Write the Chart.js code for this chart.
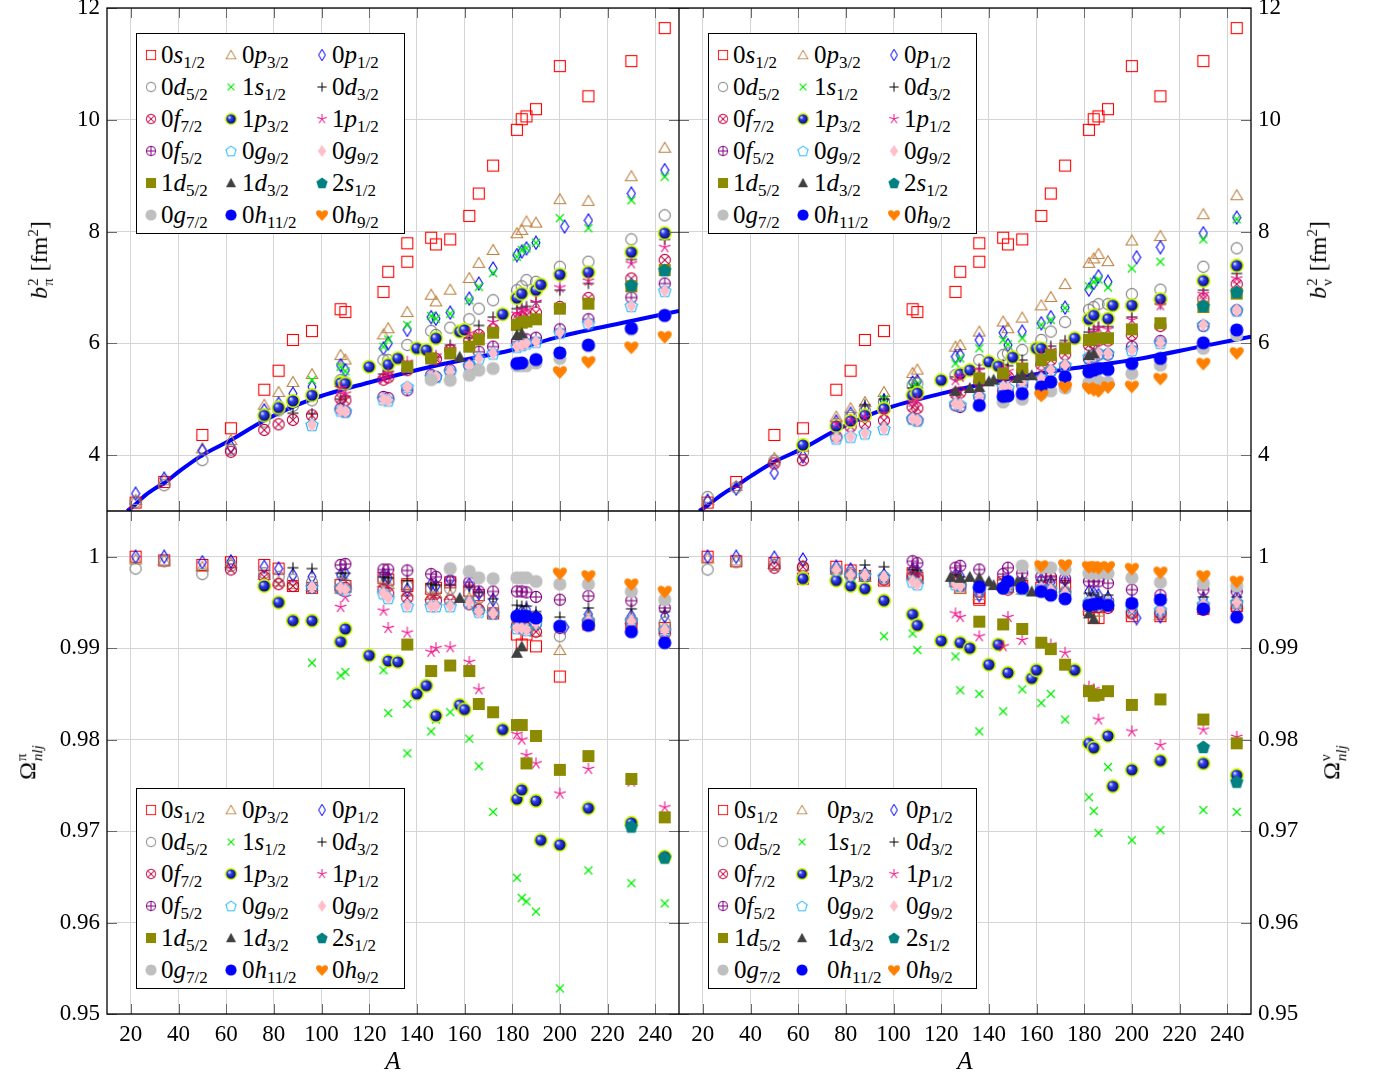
<!DOCTYPE html>
<html>
<head>
<meta charset="utf-8">
<script src="https://cdn.jsdelivr.net/npm/chart.js@4.4.1/dist/chart.umd.min.js"></script>
<style>
  body { margin: 0; background: #fff; }
  #wrap { position: relative; width: 1386px; height: 1080px; }
  .leg { position: absolute; box-sizing: border-box; background: #fff; border: 1px solid #000;
         font-family: 'Liberation Serif', serif; font-size: 25px; color: #000; }
  .leg canvas { position: absolute; }
  .leg span { position: absolute; white-space: nowrap; line-height: 1; }
  .leg sub { font-size: 17px; vertical-align: -5px; line-height: 0; }
  .ytitle { position: absolute; transform: translate(-50%, -50%) rotate(-90deg);
            font-family: 'Liberation Serif', serif; font-size: 24px; white-space: nowrap; }
  .ss { display: inline-flex; flex-direction: column; vertical-align: middle; font-size: 15px; line-height: 1.05; margin: 0 1px; }
</style>
</head>
<body>
<div id="wrap"><canvas id="c" width="1386" height="1080"></canvas></div>
<script>
// tick labels
const xTicks = [20, 40, 60, 80, 100, 120, 140, 160, 180, 200, 220, 240];
const b2Ticks = [4, 6, 8, 10, 12];
const omTicks = [0.95, 0.96, 0.97, 0.98, 0.99, 1];

// legend entries (row by row)
const labels = ['0<i>s</i><sub>1/2</sub>', '0<i>p</i><sub>3/2</sub>', '0<i>p</i><sub>1/2</sub>',
  '0<i>d</i><sub>5/2</sub>', '1<i>s</i><sub>1/2</sub>', '0<i>d</i><sub>3/2</sub>',
  '0<i>f</i><sub>7/2</sub>', '1<i>p</i><sub>3/2</sub>', '1<i>p</i><sub>1/2</sub>',
  '0<i>f</i><sub>5/2</sub>', '0<i>g</i><sub>9/2</sub>', '0<i>g</i><sub>9/2</sub>',
  '1<i>d</i><sub>5/2</sub>', '1<i>d</i><sub>3/2</sub>', '2<i>s</i><sub>1/2</sub>',
  '0<i>g</i><sub>7/2</sub>', '0<i>h</i><sub>11/2</sub>', '0<i>h</i><sub>9/2</sub>'];

// ---- protons, b^2 [fm^2]  (A, value)
const tl_0s = [[22,3.15],[34,3.52],[50,4.36],[62,4.48],[76,5.17],[82,5.51],[88,6.06],[96,6.22],[108,6.61],[110,6.56],[126,6.92],[128,7.28],[136,7.79],[136,7.46],[146,7.89],[148,7.77],[154,7.86],[162,8.28],[166,8.68],[172,9.18],[182,9.82],[184,10.01],[186,10.06],[190,10.19],[200,10.96],[212,10.42],[230,11.05],[244,11.64]];
const tl_0p3 = [[22,3.2],[34,3.55],[50,4.12],[62,4.27],[76,4.9],[82,5.13],[88,5.31],[96,5.45],[108,5.79],[110,5.71],[126,6.16],[128,6.27],[136,6.56],[146,6.87],[148,6.75],[154,6.96],[162,7.17],[166,7.44],[172,7.67],[182,7.97],[184,8.03],[186,8.18],[190,8.16],[200,8.58],[212,8.55],[230,8.99],[244,9.5]];
const tl_0p1 = [[22,3.31],[34,3.58],[50,4.08],[62,4.15],[76,4.8],[82,4.92],[88,5.1],[96,5.22],[108,5.61],[110,5.52],[126,5.91],[128,6.0],[136,6.24],[146,6.47],[148,6.44],[154,6.55],[162,6.8],[166,7.07],[172,7.34],[182,7.58],[184,7.64],[186,7.7],[190,7.8],[202,8.09],[212,8.2],[230,8.68],[244,9.1]];
const tl_0d5 = [[22,3.16],[34,3.46],[50,3.91],[62,4.1],[76,4.6],[82,4.8],[88,4.88],[96,4.98],[108,5.34],[110,5.3],[126,5.7],[128,5.7],[136,5.97],[146,6.22],[148,6.15],[154,6.28],[162,6.43],[166,6.62],[172,6.77],[182,6.95],[184,7.02],[186,7.13],[190,7.1],[200,7.37],[212,7.46],[230,7.86],[244,8.29]];
const tl_1s = [[96,5.34],[108,5.58],[110,5.5],[126,5.94],[128,6.07],[136,6.33],[146,6.49],[148,6.44],[154,6.53],[162,6.77],[166,7.01],[172,7.26],[182,7.55],[184,7.67],[186,7.7],[190,7.8],[200,8.24],[212,8.06],[230,8.56],[244,8.98]];
const tl_0d3 = [[88,4.75],[96,4.74],[108,5.0],[110,5.05],[126,5.45],[128,5.5],[136,5.6],[146,5.73],[148,5.75],[154,5.97],[162,6.1],[166,6.32],[172,6.47],[182,6.62],[184,6.64],[186,6.66],[190,6.74],[200,6.95],[212,7.07],[230,7.5],[244,7.86]];
const tl_0f7 = [[62,4.06],[76,4.45],[82,4.55],[88,4.63],[96,4.71],[108,5.01],[110,4.98],[126,5.35],[128,5.39],[136,5.52],[146,5.73],[148,5.72],[154,5.88],[162,6.05],[166,6.15],[172,6.25],[182,6.45],[184,6.47],[186,6.5],[190,6.55],[200,6.65],[212,6.81],[230,7.16],[244,7.49]];
const tl_1p3 = [[76,4.71],[82,4.85],[88,4.97],[96,5.07],[108,5.29],[110,5.28],[120,5.58],[128,5.62],[132,5.73],[140,5.91],[144,5.88],[148,6.09],[158,6.21],[160,6.24],[176,6.52],[182,6.81],[184,6.89],[190,6.95],[192,7.05],[200,7.23],[212,7.27],[230,7.63],[244,7.97]];
const tl_1p1 = [[108,5.2],[110,5.1],[126,5.37],[128,5.46],[136,5.67],[146,5.75],[148,5.78],[154,5.9],[162,6.18],[166,6.15],[172,6.38],[182,6.53],[184,6.59],[186,6.6],[190,6.74],[200,7.0],[212,7.12],[230,7.43],[244,7.72]];
const tl_0f5 = [[108,4.83],[110,4.78],[126,5.04],[128,5.02],[136,5.16],[146,5.43],[148,5.4],[154,5.52],[162,5.61],[166,5.85],[172,5.94],[182,6.03],[184,6.05],[186,6.07],[190,6.1],[200,6.25],[212,6.43],[230,6.82],[244,7.07]];
const tl_0g9c = [[96,4.54],[108,4.8],[110,4.78],[126,5.0],[128,4.98],[136,5.22],[146,5.4],[148,5.4],[154,5.49],[162,5.6],[166,5.73],[172,5.82],[182,5.94],[184,5.97],[186,6.0],[190,6.03],[200,6.19],[212,6.36],[230,6.67],[244,6.94]];
const tl_0g9p = [[96,4.54],[108,4.8],[110,4.78],[126,5.0],[128,4.98],[136,5.22],[146,5.4],[148,5.4],[154,5.49],[162,5.6],[166,5.73],[172,5.82],[182,5.94],[184,5.97],[186,6.0],[190,6.03],[200,6.19],[212,6.36],[230,6.67],[244,6.94]];
const tl_1d5 = [[136,5.58],[146,5.73],[154,5.82],[162,5.94],[166,6.07],[172,6.19],[182,6.33],[184,6.37],[186,6.39],[190,6.43],[200,6.62],[212,6.71],[230,7.02],[244,7.31]];
const tl_1d3 = [[158,5.76],[182,6.15],[184,6.18]];
const tl_2s = [[230,7.04],[244,7.31]];
const tl_0g7 = [[146,5.35],[154,5.34],[162,5.43],[166,5.52],[172,5.55],[182,5.6],[184,5.6],[186,5.6],[190,5.65],[200,5.73],[212,5.95],[230,6.25],[244,6.5]];
const tl_0h11 = [[182,5.64],[184,5.65],[190,5.71],[200,5.83],[212,5.97],[230,6.27],[244,6.5]];
const tl_0h9 = [[200,5.49],[212,5.67],[230,5.93],[244,6.12]];
const tl_fit = [[18.5,3.0],[22,3.12],[26,3.28],[30,3.4],[34,3.5],[40,3.7],[50,4.0],[62,4.27],[76,4.62],[96,5.0],[120,5.3],[150,5.62],[180,5.88],[200,6.12],[230,6.4],[250,6.58]];

// ---- neutrons, b^2 [fm^2]
const tr_0s = [[22,3.15],[34,3.52],[50,4.36],[62,4.48],[76,5.17],[82,5.51],[88,6.06],[96,6.22],[108,6.61],[110,6.56],[126,6.92],[128,7.28],[136,7.79],[136,7.46],[146,7.89],[148,7.77],[154,7.86],[162,8.28],[166,8.68],[172,9.18],[182,9.82],[184,10.01],[186,10.06],[190,10.19],[200,10.96],[212,10.42],[230,11.05],[244,11.64]];
const tr_0p3 = [[22,3.2],[34,3.45],[50,3.95],[62,4.15],[76,4.69],[82,4.84],[88,4.95],[96,5.13],[108,5.47],[110,5.53],[126,5.94],[128,5.97],[136,6.21],[146,6.39],[148,6.27],[154,6.46],[162,6.68],[166,6.83],[172,7.06],[182,7.44],[184,7.52],[186,7.6],[190,7.47],[200,7.84],[212,7.92],[230,8.31],[244,8.65]];
const tr_0p1 = [[22,3.18],[34,3.4],[50,3.68],[62,3.98],[76,4.6],[82,4.74],[88,4.83],[96,4.98],[108,5.3],[110,5.32],[126,5.76],[128,5.79],[136,6.06],[146,6.19],[148,5.97],[154,6.21],[162,6.36],[166,6.47],[172,6.64],[182,6.96],[184,7.08],[186,7.2],[190,7.1],[202,7.54],[212,7.72],[230,7.97],[244,8.25]];
const tr_0d5 = [[22,3.25],[34,3.42],[50,3.9],[62,4.05],[76,4.55],[82,4.7],[88,4.8],[96,4.95],[108,5.25],[110,5.28],[126,5.43],[128,5.46],[136,5.7],[146,5.79],[148,5.82],[154,5.88],[162,6.06],[166,6.21],[172,6.38],[182,6.6],[184,6.65],[186,6.7],[190,6.7],[200,6.88],[212,6.96],[230,7.37],[244,7.7]];
const tr_1s = [[96,5.0],[108,5.22],[110,5.28],[126,5.64],[128,5.73],[136,5.91],[146,6.06],[148,5.98],[154,6.09],[162,6.33],[166,6.42],[172,6.63],[182,7.02],[184,7.1],[186,7.14],[190,7.0],[200,7.34],[212,7.46],[230,7.86],[244,8.22]];
const tr_0d3 = [[88,4.9],[96,5.0],[108,5.2],[110,5.2],[126,5.4],[128,5.45],[136,5.55],[146,5.62],[148,5.6],[154,5.7],[162,5.85],[166,5.95],[172,6.05],[182,6.2],[184,6.25],[186,6.3],[190,6.3],[200,6.47],[212,6.7],[230,6.95],[244,7.25]];
const tr_0f7 = [[50,3.85],[62,3.91],[76,4.33],[82,4.51],[88,4.56],[96,4.62],[108,4.86],[110,4.84],[126,5.1],[128,5.12],[136,5.31],[146,5.42],[148,5.4],[154,5.5],[162,5.62],[166,5.7],[172,5.8],[182,5.97],[184,6.0],[186,6.05],[190,6.05],[200,6.15],[212,6.31],[230,6.8],[244,7.06]];
const tr_1p3 = [[62,4.18],[76,4.52],[82,4.61],[88,4.71],[96,4.83],[108,5.07],[110,5.11],[120,5.34],[128,5.45],[132,5.52],[140,5.67],[144,5.59],[150,5.75],[160,5.91],[162,5.91],[176,6.09],[182,6.43],[184,6.5],[190,6.44],[192,6.68],[200,6.68],[212,6.79],[230,7.12],[244,7.39]];
const tr_1p1 = [[76,4.57],[82,4.62],[88,4.68],[96,4.75],[108,4.95],[110,4.98],[126,5.34],[128,5.4],[136,5.52],[146,5.55],[148,5.5],[154,5.6],[162,5.78],[166,5.88],[172,5.98],[182,6.12],[184,6.2],[186,6.27],[190,6.25],[200,6.42],[212,6.68],[230,6.88],[244,7.16]];
const tr_0f5 = [[108,4.65],[110,4.62],[126,4.89],[128,4.86],[136,5.04],[146,5.15],[148,5.12],[154,5.25],[162,5.4],[166,5.5],[172,5.58],[182,5.72],[184,5.75],[186,5.8],[190,5.8],[200,5.94],[212,6.04],[230,6.31],[244,6.59]];
const tr_0g9c = [[76,4.3],[82,4.33],[88,4.39],[96,4.47],[108,4.65],[110,4.62],[126,4.92],[128,4.9],[136,5.05],[146,5.22],[148,5.2],[154,5.31],[162,5.37],[166,5.52],[172,5.61],[182,5.76],[184,5.78],[186,5.82],[190,5.82],[200,5.88],[212,6.01],[230,6.33],[244,6.59]];
const tr_0g9p = [[76,4.3],[82,4.33],[88,4.39],[96,4.47],[108,4.65],[110,4.62],[126,4.92],[128,4.9],[136,5.05],[146,5.22],[148,5.2],[154,5.31],[162,5.37],[166,5.52],[172,5.61],[182,5.76],[184,5.78],[186,5.82],[190,5.82],[200,5.88],[212,6.01],[230,6.33],[244,6.59]];
const tr_1d5 = [[136,5.37],[146,5.46],[154,5.55],[162,5.7],[166,5.79],[172,5.91],[182,6.06],[184,6.08],[186,6.09],[190,6.09],[200,6.25],[212,6.36],[230,6.65],[244,6.89]];
const tr_1d3 = [[126,5.15],[132,5.2],[136,5.22],[140,5.32],[142,5.35],[152,5.38],[154,5.43],[158,5.43],[182,5.79],[184,5.82]];
const tr_2s = [[230,6.67],[244,6.92]];
const tr_0g7 = [[146,4.95],[154,5.0],[162,5.1],[166,5.15],[172,5.2],[182,5.3],[184,5.3],[186,5.32],[190,5.3],[200,5.46],[212,5.61],[230,5.91],[244,6.15]];
const tr_0h11 = [[136,4.89],[146,5.05],[148,5.06],[154,5.1],[162,5.22],[166,5.31],[172,5.4],[182,5.49],[184,5.52],[186,5.55],[190,5.53],[200,5.64],[212,5.73],[230,6.01],[244,6.24]];
const tr_0h9 = [[162,5.07],[172,5.22],[182,5.2],[184,5.17],[186,5.15],[190,5.22],[200,5.23],[212,5.37],[230,5.64],[244,5.83]];
const tr_fit = [[18.5,3.0],[22,3.1],[26,3.23],[30,3.35],[34,3.45],[40,3.62],[50,3.88],[62,4.12],[76,4.45],[96,4.82],[120,5.1],[150,5.38],[180,5.58],[200,5.7],[230,5.95],[250,6.12]];

// ---- protons, Omega
const bl_0s = [[22,1.0],[34,0.9996],[50,0.9991],[62,0.9994],[76,0.9991],[82,0.9987],[88,0.9968],[96,0.9966],[108,0.9969],[110,0.9968],[126,0.9977],[128,0.9975],[136,0.997],[136,0.9968],[146,0.9965],[148,0.9966],[154,0.9972],[162,0.9963],[166,0.9958],[172,0.9938],[182,0.9915],[184,0.9904],[186,0.9915],[190,0.9902],[200,0.9869],[212,0.9926],[230,0.9927],[244,0.9922]];
const bl_0p3 = [[22,0.9997],[34,0.9996],[50,0.9989],[62,0.9993],[76,0.998],[82,0.9973],[88,0.997],[96,0.9968],[108,0.9965],[110,0.9966],[126,0.9972],[128,0.997],[136,0.9962],[146,0.9958],[148,0.996],[154,0.9958],[162,0.9955],[166,0.9946],[172,0.994],[182,0.9928],[184,0.9925],[186,0.9925],[190,0.9918],[200,0.9898],[212,0.9935],[230,0.9932],[244,0.9924]];
const bl_0p1 = [[22,1.0],[34,1.0],[50,0.9994],[62,0.9995],[76,0.9989],[82,0.9987],[88,0.998],[96,0.9978],[108,0.998],[110,0.9982],[126,0.998],[128,0.9977],[136,0.9964],[146,0.997],[148,0.9968],[154,0.9975],[162,0.997],[166,0.996],[172,0.9953],[182,0.9937],[184,0.994],[186,0.9942],[190,0.9935],[202,0.9923],[212,0.9937],[230,0.9935],[244,0.9935]];
const bl_0d5 = [[22,0.9987],[34,0.9995],[50,0.9981],[62,0.999],[76,0.9982],[82,0.9978],[88,0.9975],[96,0.9972],[108,0.9972],[110,0.997],[126,0.9975],[128,0.9972],[136,0.9968],[146,0.9965],[148,0.9964],[154,0.9965],[162,0.996],[166,0.9955],[172,0.9945],[182,0.9932],[184,0.993],[186,0.993],[190,0.9926],[200,0.9913],[212,0.993],[230,0.993],[244,0.9928]];
const bl_1s = [[96,0.9884],[108,0.987],[110,0.9874],[126,0.9876],[128,0.9829],[136,0.9839],[136,0.9785],[146,0.9809],[148,0.9822],[154,0.983],[162,0.9801],[166,0.9771],[172,0.9721],[182,0.9649],[184,0.9627],[186,0.9623],[190,0.9612],[200,0.9528],[212,0.9657],[230,0.9643],[244,0.9621]];
const bl_0d3 = [[88,0.9988],[96,0.9987],[108,0.9982],[110,0.9982],[126,0.9978],[128,0.9977],[136,0.9974],[146,0.997],[148,0.9969],[154,0.9969],[162,0.9967],[166,0.9961],[172,0.9954],[182,0.9947],[184,0.9946],[186,0.9946],[190,0.994],[200,0.9934],[212,0.9944],[230,0.9943],[244,0.994]];
const bl_0f7 = [[62,0.9986],[76,0.9978],[82,0.997],[88,0.9968],[96,0.9966],[108,0.9965],[110,0.9966],[126,0.9964],[128,0.996],[136,0.9955],[146,0.9952],[148,0.9952],[154,0.9952],[162,0.9948],[166,0.9942],[172,0.9938],[182,0.9925],[184,0.9922],[186,0.9922],[190,0.9918],[200,0.9922],[212,0.9927],[230,0.9927],[244,0.9916]];
const bl_1p3 = [[76,0.9968],[82,0.995],[88,0.993],[96,0.993],[108,0.9907],[110,0.9921],[120,0.9892],[128,0.9886],[132,0.9885],[140,0.985],[144,0.9859],[148,0.9826],[158,0.9838],[160,0.9833],[176,0.9811],[182,0.9735],[184,0.9745],[190,0.9733],[192,0.969],[200,0.9685],[212,0.9725],[230,0.9709],[244,0.9672]];
const bl_1p1 = [[108,0.9945],[110,0.9956],[126,0.9941],[128,0.9922],[136,0.9917],[146,0.9896],[148,0.99],[154,0.9901],[162,0.9885],[166,0.9855],[182,0.9806],[184,0.98],[186,0.9783],[190,0.9774],[200,0.9741],[212,0.9768],[230,0.9754],[244,0.9726]];
const bl_0f5 = [[108,0.9991],[110,0.9992],[126,0.9986],[128,0.9986],[136,0.9985],[146,0.9981],[148,0.9978],[154,0.9974],[162,0.9972],[166,0.9962],[172,0.9962],[182,0.9962],[184,0.9962],[186,0.9961],[190,0.9956],[200,0.9953],[212,0.9957],[230,0.9952],[244,0.9944]];
const bl_0g9c = [[96,0.9967],[108,0.9966],[110,0.9964],[126,0.996],[128,0.9955],[136,0.9946],[146,0.9946],[148,0.9946],[154,0.9946],[162,0.995],[166,0.994],[172,0.9938],[182,0.9922],[184,0.9922],[186,0.992],[190,0.9928],[200,0.9925],[212,0.993],[230,0.993],[244,0.992]];
const bl_0g9p = [[96,0.9967],[108,0.9966],[110,0.9964],[126,0.996],[128,0.9955],[136,0.9946],[146,0.9946],[148,0.9946],[154,0.9946],[162,0.995],[166,0.994],[172,0.9938],[182,0.9922],[184,0.9922],[186,0.992],[190,0.9928],[200,0.9925],[212,0.993],[230,0.993],[244,0.992]];
const bl_1d5 = [[136,0.9904],[146,0.9875],[154,0.9881],[162,0.9875],[166,0.9839],[172,0.983],[182,0.9816],[184,0.9816],[186,0.9774],[190,0.9804],[200,0.9767],[212,0.9782],[230,0.9757],[244,0.9715]];
const bl_1d3 = [[158,0.9955],[182,0.9895],[184,0.9902]];
const bl_2s = [[230,0.9705],[244,0.9671]];
const bl_0g7 = [[154,0.9987],[162,0.9984],[166,0.9977],[172,0.9976],[182,0.9977],[184,0.9977],[186,0.9977],[190,0.9973],[200,0.997],[212,0.997],[230,0.9962],[244,0.9953]];
const bl_0h11 = [[182,0.9935],[184,0.9935],[186,0.9935],[190,0.9933],[200,0.9924],[212,0.9925],[230,0.9918],[244,0.9906]];
const bl_0h9 = [[200,0.9982],[212,0.9979],[230,0.997],[244,0.9962]];

// ---- neutrons, Omega
const br_0s = [[22,1.0],[34,0.9995],[50,0.9993],[62,0.9976],[76,0.9989],[82,0.9985],[88,0.9979],[96,0.9974],[108,0.9982],[110,0.9977],[126,0.9975],[128,0.9966],[136,0.9953],[136,0.9955],[146,0.9972],[148,0.997],[154,0.9968],[162,0.9966],[166,0.9973],[172,0.9968],[182,0.9942],[184,0.9933],[186,0.9933],[190,0.9948],[200,0.9935],[212,0.9935],[230,0.9943],[244,0.9946]];
const br_0p3 = [[22,0.9998],[34,0.9996],[50,0.9992],[62,0.999],[76,0.9986],[82,0.9982],[88,0.9978],[96,0.9975],[108,0.998],[110,0.9976],[126,0.9972],[128,0.9965],[136,0.9958],[146,0.9968],[148,0.9966],[154,0.9964],[162,0.9962],[166,0.9966],[172,0.9962],[182,0.9945],[184,0.994],[186,0.994],[190,0.9948],[200,0.9938],[212,0.9936],[230,0.9944],[244,0.9948]];
const br_0p1 = [[22,1.0],[34,1.0],[50,0.9999],[62,0.9997],[76,0.9989],[82,0.9986],[88,0.9982],[96,0.998],[108,0.9986],[110,0.9984],[126,0.998],[128,0.9979],[136,0.9958],[146,0.9968],[148,0.9972],[154,0.9972],[162,0.9975],[166,0.9972],[172,0.9975],[182,0.9962],[184,0.996],[186,0.9958],[190,0.9955],[202,0.9933],[212,0.9935],[230,0.9954],[244,0.9956]];
const br_0d5 = [[22,0.9986],[34,0.9994],[50,0.9991],[62,0.9988],[76,0.9985],[82,0.9982],[88,0.998],[96,0.9978],[108,0.998],[110,0.9978],[126,0.9974],[128,0.997],[136,0.9962],[146,0.9966],[148,0.9966],[154,0.9965],[162,0.9964],[166,0.9964],[172,0.9962],[182,0.995],[184,0.9946],[186,0.9945],[190,0.9946],[200,0.994],[212,0.994],[230,0.9946],[244,0.995]];
const br_1s = [[96,0.9913],[108,0.9916],[110,0.9898],[126,0.9891],[128,0.9854],[136,0.985],[136,0.9809],[146,0.9831],[154,0.9855],[162,0.984],[166,0.985],[172,0.9822],[182,0.9737],[184,0.9722],[186,0.9698],[190,0.977],[200,0.969],[212,0.9701],[230,0.9723],[244,0.9721]];
const br_0d3 = [[88,0.9991],[96,0.9989],[108,0.9986],[110,0.9985],[126,0.998],[128,0.9978],[136,0.9972],[146,0.9975],[148,0.9974],[154,0.9976],[162,0.9974],[166,0.9975],[172,0.9972],[182,0.996],[184,0.9958],[186,0.9956],[190,0.9958],[200,0.9953],[212,0.995],[230,0.9956],[244,0.9956]];
const br_0f7 = [[50,0.9988],[62,0.9989],[76,0.9984],[82,0.998],[88,0.9978],[96,0.9975],[108,0.9978],[110,0.9976],[126,0.9972],[128,0.9968],[136,0.9962],[146,0.9965],[148,0.9964],[154,0.9965],[162,0.9963],[166,0.9962],[172,0.996],[182,0.9948],[184,0.9945],[186,0.9945],[190,0.9944],[200,0.9938],[212,0.9938],[230,0.9942],[244,0.9944]];
const br_1p3 = [[62,0.9976],[76,0.9974],[82,0.9968],[88,0.9965],[96,0.9952],[108,0.9937],[110,0.9925],[120,0.9908],[128,0.9906],[132,0.99],[140,0.9882],[144,0.9904],[148,0.9873],[158,0.9867],[160,0.9876],[176,0.9876],[182,0.9796],[184,0.9791],[190,0.9804],[192,0.9749],[200,0.9767],[212,0.9777],[230,0.9774],[244,0.9761]];
const br_1p1 = [[126,0.9938],[128,0.9934],[136,0.9913],[146,0.9902],[148,0.9934],[154,0.9909],[166,0.9904],[172,0.9895],[182,0.9858],[184,0.9855],[186,0.9822],[190,0.9852],[200,0.9809],[212,0.9794],[230,0.9811],[244,0.9803]];
const br_0f5 = [[108,0.9995],[110,0.9993],[126,0.9988],[128,0.999],[136,0.9986],[146,0.9981],[148,0.9988],[154,0.9982],[162,0.9978],[166,0.9978],[172,0.9976],[182,0.9973],[184,0.9973],[186,0.9973],[190,0.9971],[200,0.9964],[212,0.9958],[230,0.9964],[244,0.9962]];
const br_0g9c = [[76,0.9986],[82,0.998],[88,0.998],[96,0.9978],[108,0.9973],[110,0.997],[126,0.997],[128,0.9968],[136,0.9964],[146,0.9966],[148,0.9968],[154,0.9965],[162,0.9966],[166,0.9964],[172,0.996],[182,0.995],[184,0.995],[186,0.9948],[190,0.995],[200,0.9945],[212,0.9942],[230,0.9948],[244,0.995]];
const br_0g9p = [[76,0.9986],[82,0.998],[88,0.998],[96,0.9978],[108,0.9973],[110,0.997],[126,0.997],[128,0.9968],[136,0.9964],[146,0.9966],[148,0.9968],[154,0.9965],[162,0.9966],[166,0.9964],[172,0.996],[182,0.995],[184,0.995],[186,0.9948],[190,0.995],[200,0.9945],[212,0.9942],[230,0.9948],[244,0.995]];
const br_1d5 = [[136,0.9929],[146,0.9926],[154,0.9921],[162,0.9906],[166,0.9899],[172,0.9882],[182,0.9853],[184,0.9848],[186,0.9849],[190,0.9853],[200,0.9838],[212,0.9844],[230,0.9822],[244,0.9796]];
const br_1d3 = [[124,0.9978],[128,0.9977],[132,0.9978],[136,0.9977],[140,0.9973],[142,0.9969],[152,0.9973],[154,0.9972],[158,0.9962],[182,0.9938],[184,0.9932]];
const br_2s = [[230,0.9792],[244,0.9754]];
const br_0g7 = [[154,0.999],[162,0.9988],[166,0.9988],[172,0.9986],[182,0.9982],[184,0.9982],[186,0.9982],[190,0.9982],[200,0.9977],[212,0.9972],[230,0.9971],[244,0.9968]];
const br_0h11 = [[136,0.9967],[146,0.9966],[148,0.9973],[154,0.9966],[162,0.9962],[166,0.9958],[172,0.9954],[182,0.9947],[184,0.9948],[186,0.9949],[190,0.9947],[200,0.9949],[212,0.9953],[230,0.9943],[244,0.9934]];
const br_0h9 = [[162,0.999],[172,0.9991],[182,0.9989],[184,0.9989],[186,0.9988],[190,0.9989],[200,0.9987],[212,0.9983],[230,0.9979],[244,0.9973]];

// ---- marker images
function mk(w, h, draw) {
  const c = document.createElement('canvas');
  c.width = w; c.height = h;
  const g = c.getContext('2d');
  draw(g, w / 2, h / 2);
  return c;
}
function poly(g, pts) { g.beginPath(); g.moveTo(pts[0][0], pts[0][1]); pts.slice(1).forEach(p => g.lineTo(p[0], p[1])); g.closePath(); }
function pent(g, cx, cy, r) {
  const pts = [];
  for (let k = 0; k < 5; k++) { const a = -Math.PI / 2 + k * 2 * Math.PI / 5; pts.push([cx + r * Math.cos(a), cy + r * Math.sin(a)]); }
  poly(g, pts);
}
function line(g, x1, y1, x2, y2) { g.beginPath(); g.moveTo(x1, y1); g.lineTo(x2, y2); g.stroke(); }

const markers = [
  mk(14, 14, (g, c) => { g.strokeStyle = '#ff0000'; g.lineWidth = 1.1; g.strokeRect(1.5, 1.5, 11, 11); }),
  mk(14, 14, (g, c) => { g.strokeStyle = '#bf8040'; g.lineWidth = 1.1; poly(g, [[7, 1.5], [12.8, 11.5], [1.2, 11.5]]); g.stroke(); }),
  mk(10, 15, (g, c) => { g.strokeStyle = '#0000ff'; g.lineWidth = 1.1; poly(g, [[5, 1], [9, 7.5], [5, 14], [1, 7.5]]); g.stroke(); }),
  mk(14, 14, (g, c) => { g.strokeStyle = '#808080'; g.lineWidth = 1.1; g.beginPath(); g.arc(c, c, 5.6, 0, 7); g.stroke(); }),
  mk(12, 12, (g, c) => { g.strokeStyle = '#00ee00'; g.lineWidth = 1.2; line(g, c - 4, c - 4, c + 4, c + 4); line(g, c - 4, c + 4, c + 4, c - 4); }),
  mk(14, 14, (g, c) => { g.strokeStyle = '#000'; g.lineWidth = 1.1; line(g, c - 5.5, c, c + 5.5, c); line(g, c, c - 5.5, c, c + 5.5); }),
  mk(14, 14, (g, c) => { g.strokeStyle = '#bf0040'; g.lineWidth = 1.1; g.beginPath(); g.arc(c, c, 5.6, 0, 7); g.stroke();
    const d = 3.9; line(g, c - d, c - d, c + d, c + d); line(g, c - d, c + d, c + d, c - d); }),
  mk(16, 16, (g, c) => { const gr = g.createRadialGradient(c - 2.2, c - 2.2, 0.5, c, c, 6.6);
    gr.addColorStop(0, '#d8ddff'); gr.addColorStop(0.3, '#3040f0'); gr.addColorStop(1, '#00005a');
    g.fillStyle = gr; g.beginPath(); g.arc(c, c, 6.4, 0, 7); g.fill();
    g.strokeStyle = '#ccff00'; g.lineWidth = 1.6; g.stroke(); }),
  mk(14, 14, (g, c) => { g.strokeStyle = '#f0148c'; g.lineWidth = 1.1;
    for (let k = 0; k < 5; k++) { const a = -Math.PI / 2 + k * 2 * Math.PI / 5; line(g, c, c, c + 6 * Math.cos(a), c + 6 * Math.sin(a)); } }),
  mk(14, 14, (g, c) => { g.strokeStyle = '#800080'; g.lineWidth = 1.1; g.beginPath(); g.arc(c, c, 5.6, 0, 7); g.stroke();
    line(g, c - 5.6, c, c + 5.6, c); line(g, c, c - 5.6, c, c + 5.6); }),
  mk(16, 16, (g, c) => { g.strokeStyle = '#14b4ff'; g.lineWidth = 1.1; pent(g, c, c + 0.5, 6.4); g.stroke(); }),
  mk(12, 16, (g, c) => { g.fillStyle = '#ffbfca'; poly(g, [[6, 1], [11, 8], [6, 15], [1, 8]]); g.fill(); }),
  mk(14, 14, (g, c) => { g.fillStyle = '#8c8a00'; g.fillRect(1, 1, 12, 12); }),
  mk(14, 14, (g, c) => { g.fillStyle = '#404040'; poly(g, [[7, 1], [13, 12], [1, 12]]); g.fill(); }),
  mk(16, 16, (g, c) => { g.fillStyle = '#008080'; pent(g, c, c + 0.5, 7); g.fill(); }),
  mk(16, 16, (g, c) => { g.fillStyle = '#bfbfbf'; g.beginPath(); g.arc(c, c, 6.6, 0, 7); g.fill(); }),
  mk(16, 16, (g, c) => { g.fillStyle = '#0000ff'; g.beginPath(); g.arc(c, c, 6.6, 0, 7); g.fill(); }),
  mk(16, 16, (g, c) => { g.fillStyle = '#ff8000'; const x = c, y = c;
    g.beginPath(); g.moveTo(x, y + 7);
    g.bezierCurveTo(x - 3, y + 3.5, x - 7, y + 0.5, x - 7, y - 2.5);
    g.bezierCurveTo(x - 7, y - 6.5, x - 2, y - 7, x, y - 3.5);
    g.bezierCurveTo(x + 2, y - 7, x + 7, y - 6.5, x + 7, y - 2.5);
    g.bezierCurveTo(x + 7, y + 0.5, x + 3, y + 3.5, x, y + 7);
    g.fill(); })
];

const panels = [
  { x: 'xL', y: 'yTL', sets: [tl_0s, tl_0p3, tl_0p1, tl_0d5, tl_1s, tl_0d3, tl_0f7, tl_1p3, tl_1p1, tl_0f5, tl_0g9c, tl_0g9p, tl_1d5, tl_1d3, tl_2s, tl_0g7, tl_0h11, tl_0h9] },
  { x: 'xR', y: 'yTR', sets: [tr_0s, tr_0p3, tr_0p1, tr_0d5, tr_1s, tr_0d3, tr_0f7, tr_1p3, tr_1p1, tr_0f5, tr_0g9c, tr_0g9p, tr_1d5, tr_1d3, tr_2s, tr_0g7, tr_0h11, tr_0h9] },
  { x: 'xL', y: 'yBL', sets: [bl_0s, bl_0p3, bl_0p1, bl_0d5, bl_1s, bl_0d3, bl_0f7, bl_1p3, bl_1p1, bl_0f5, bl_0g9c, bl_0g9p, bl_1d5, bl_1d3, bl_2s, bl_0g7, bl_0h11, bl_0h9] },
  { x: 'xR', y: 'yBR', sets: [br_0s, br_0p3, br_0p1, br_0d5, br_1s, br_0d3, br_0f7, br_1p3, br_1p1, br_0f5, br_0g9c, br_0g9p, br_1d5, br_1d3, br_2s, br_0g7, br_0h11, br_0h9] }
];

const datasets = [
  { data: tl_fit.map(p => ({ x: p[0], y: p[1] })), xAxisID: 'xL', yAxisID: 'yTL', showLine: true,
    borderColor: '#0000ff', borderWidth: 4, pointRadius: 0, cubicInterpolationMode: 'monotone', order: 100 },
  { data: tr_fit.map(p => ({ x: p[0], y: p[1] })), xAxisID: 'xR', yAxisID: 'yTR', showLine: true,
    borderColor: '#0000ff', borderWidth: 4, pointRadius: 0, cubicInterpolationMode: 'monotone', order: 100 }
];
panels.forEach(p => {
  p.sets.forEach((arr, i) => {
    datasets.push({ data: arr.map(q => ({ x: q[0], y: q[1] })), xAxisID: p.x, yAxisID: p.y,
      pointStyle: markers[i], pointRadius: 6, showLine: false, order: -i });
  });
});

const FONT = "'Liberation Serif', 'DejaVu Serif', serif";
const GRID = { color: '#d4d4d4', lineWidth: 1, drawTicks: false };

function xAxis() {
  return {
    type: 'linear', position: 'bottom', stack: 'bot', stackWeight: 1, min: 10, max: 250,
    grid: GRID, border: { display: false },
    ticks: { font: { family: FONT, size: 23 }, color: '#000', padding: 7, autoSkip: false, maxRotation: 0 },
    title: { display: true, text: 'A', font: { family: FONT, size: 25, style: 'italic' }, color: '#000', padding: { top: 0, bottom: 3 } },
    afterBuildTicks: s => { s.ticks = xTicks.map(v => ({ value: v })); },
    afterFit: s => { s.height = 66; s.paddingLeft = 0; s.paddingRight = 0; }
  };
}
function yAxis(pos, min, max, tv, w) {
  return {
    type: 'linear', position: pos, stack: pos, stackWeight: 1, min: min, max: max,
    grid: GRID, border: { display: false },
    ticks: { font: { family: FONT, size: 23 }, color: '#000', padding: 7, autoSkip: false,
      callback: v => (max < 2 ? (v === 1 ? '1' : v.toFixed(2)) : String(v)) },
    afterBuildTicks: s => { s.ticks = tv.map(v => ({ value: v })); },
    afterFit: s => { s.width = w; s.paddingTop = 0; s.paddingBottom = 0; }
  };
}

const framePlugin = {
  id: 'frame',
  afterDatasetsDraw(chart) {
    const g = chart.ctx, s = chart.scales;
    const L = s.xL.left, M = s.xL.right, R = s.xR.right, T = s.yTL.top, H = s.yTL.bottom, B = s.yBL.bottom;
    const len = 10;
    g.save();
    g.strokeStyle = '#6a6a6a'; g.lineWidth = 1;
    [s.xL, s.xR].forEach(sc => xTicks.forEach(v => {
      const x = Math.round(sc.getPixelForValue(v)) + 0.5;
      line(g, x, T, x, T + len); line(g, x, H - len, x, H + len); line(g, x, B - len, x, B);
    }));
    [[s.yTL, b2Ticks], [s.yBL, omTicks]].forEach(([sc, tv]) => tv.forEach(v => {
      const y = Math.round(sc.getPixelForValue(v)) + 0.5;
      line(g, L, y, L + len, y); line(g, M - len, y, M + len, y); line(g, R - len, y, R, y);
    }));
    g.strokeStyle = '#000'; g.lineWidth = 1.3;
    g.strokeRect(L, T, R - L, B - T);
    line(g, M, T, M, B); line(g, L, H, R, H);
    g.restore();
  }
};

new Chart(document.getElementById('c'), {
  type: 'scatter',
  data: { datasets: datasets },
  options: {
    responsive: false, animation: false, events: [],
    layout: { padding: { top: 8, left: 0, right: 0, bottom: 0 } },
    plugins: { legend: { display: false }, tooltip: { enabled: false } },
    scales: {
      xL: xAxis(), xR: xAxis(),
      // left stack is laid out in reverse order, so the lower panel comes first
      yBL: yAxis('left', 0.95, 1.005, omTicks, 107), yTL: yAxis('left', 3, 12, b2Ticks, 107),
      yTR: yAxis('right', 3, 12, b2Ticks, 135), yBR: yAxis('right', 0.95, 1.005, omTicks, 135)
    }
  },
  plugins: [framePlugin]
});

// ---- legends and y titles as HTML overlays
const wrap = document.getElementById('wrap');
function legend(left, top, mx, tx) {
  const box = document.createElement('div');
  box.className = 'leg';
  box.style.left = left + 'px'; box.style.top = top + 'px';
  box.style.width = '269px'; box.style.height = '201px';
  labels.forEach((lab, i) => {
    const r = Math.floor(i / 3), c = i % 3, y = 21 + r * 32;
    const m = markers[i];
    const mc = document.createElement('canvas');
    mc.width = 16; mc.height = 16;
    const g = mc.getContext('2d');
    g.translate(8, 8); g.scale(0.85, 0.85);
    g.drawImage(m, -m.width / 2, -m.height / 2);
    mc.style.left = (mx[c] - 8) + 'px'; mc.style.top = (y - 8) + 'px';
    box.appendChild(mc);
    const sp = document.createElement('span');
    sp.innerHTML = lab;
    sp.style.left = tx[c] + 'px'; sp.style.top = (y - 13) + 'px';
    box.appendChild(sp);
  });
  wrap.appendChild(box);
}
legend(136, 33, [14, 94, 185], [24, 105, 195]);
legend(708, 33, [14, 94, 185], [24, 105, 195]);
legend(136, 788, [14, 94, 185], [24, 105, 195]);
legend(708, 788, [14, 93, 185], [25, 118, 197]);

function ytitle(x, y, html) {
  const d = document.createElement('div');
  d.className = 'ytitle';
  d.style.left = x + 'px'; d.style.top = y + 'px';
  d.innerHTML = html;
  wrap.appendChild(d);
}
ytitle(41, 260, '<i>b</i><span class="ss"><span>2</span><span>π</span></span> [fm<sup style="font-size:15px">2</sup>]');
ytitle(1320, 260, '<i>b</i><span class="ss"><span>2</span><span>ν</span></span> [fm<sup style="font-size:15px">2</sup>]');
ytitle(30, 762, 'Ω<span class="ss"><span>π</span><span><i>nlj</i></span></span>');
ytitle(1334, 762, 'Ω<span class="ss"><span>ν</span><span><i>nlj</i></span></span>');
</script>
</body>
</html>
